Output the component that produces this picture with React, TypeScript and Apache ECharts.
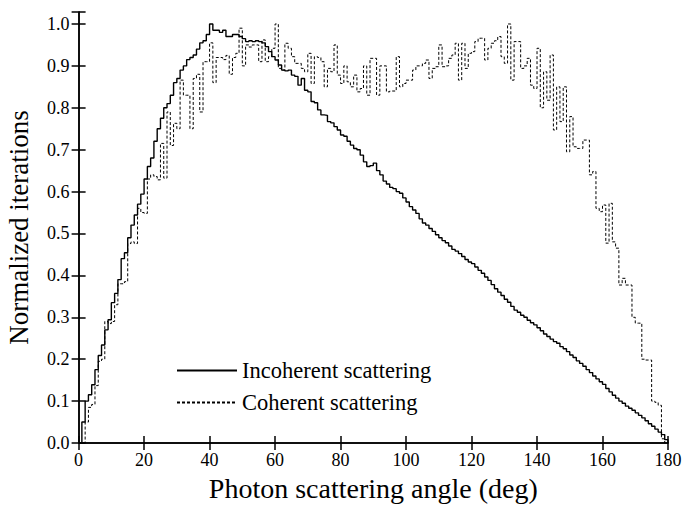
import React, { useEffect, useRef } from "react";
import * as echarts from "echarts";

// Histogram bins: 1 degree wide, bin i covers [i, i+1)
const binWidth = 1;
const xTicks = { min: 0, max: 180, interval: 20 };

const incoherent = [
  0, 0.05, 0.1, 0.115, 0.139, 0.175, 0.209, 0.234, 0.27, 0.294,
  0.335, 0.357, 0.39, 0.44, 0.454, 0.49, 0.52, 0.544, 0.57, 0.594,
  0.63, 0.66, 0.68, 0.72, 0.75, 0.775, 0.8, 0.81, 0.83, 0.86,
  0.87, 0.89, 0.9, 0.915, 0.92, 0.926, 0.94, 0.955, 0.96, 0.975,
  1.0, 0.985, 0.985, 0.98, 0.985, 0.97, 0.97, 0.975, 0.975, 0.97,
  0.965, 0.958, 0.96, 0.958, 0.96, 0.958, 0.955, 0.946, 0.934, 0.922,
  0.914, 0.902, 0.89, 0.888, 0.89, 0.878, 0.875, 0.854, 0.87, 0.842,
  0.838, 0.815, 0.812, 0.795, 0.783, 0.782, 0.767, 0.764, 0.755, 0.747,
  0.735, 0.732, 0.72, 0.711, 0.703, 0.7, 0.687, 0.671, 0.66, 0.662,
  0.668, 0.65, 0.64, 0.625, 0.618, 0.61, 0.607, 0.6, 0.596, 0.585,
  0.575, 0.564, 0.556, 0.548, 0.535, 0.525, 0.52, 0.512, 0.505, 0.497,
  0.49, 0.483, 0.478, 0.47, 0.462, 0.458, 0.452, 0.445, 0.438, 0.432,
  0.428, 0.42, 0.412, 0.405, 0.396, 0.388, 0.378, 0.368, 0.36, 0.352,
  0.343, 0.336, 0.326, 0.317, 0.312, 0.305, 0.3, 0.293, 0.287, 0.282,
  0.275, 0.268, 0.26, 0.254, 0.248, 0.242, 0.238, 0.23, 0.225, 0.218,
  0.21, 0.204, 0.196, 0.19, 0.183, 0.175, 0.168, 0.16, 0.153, 0.146,
  0.14, 0.13, 0.122, 0.114, 0.107, 0.1, 0.095, 0.088, 0.083, 0.078,
  0.072, 0.066, 0.06, 0.053, 0.046, 0.04, 0.033, 0.026, 0.02, 0.008,
];

const coherent = [
  0, 0, 0.05, 0.085, 0.092, 0.137, 0.195, 0.2, 0.29, 0.285,
  0.29, 0.33, 0.38, 0.38, 0.385, 0.476, 0.48, 0.476, 0.56, 0.55,
  0.548, 0.63, 0.64, 0.636, 0.628, 0.715, 0.632, 0.79, 0.71, 0.763,
  0.75, 0.866, 0.83, 0.83, 0.75, 0.87, 0.88, 0.79, 0.91, 0.91,
  0.955, 0.86, 0.92, 0.92, 0.915, 0.925, 0.88, 0.92, 0.93, 0.99,
  0.9, 0.95, 0.945, 0.95, 0.95, 0.91, 0.962, 0.91, 0.922, 0.942,
  1.0, 0.894, 0.89, 0.954, 0.942, 0.922, 0.906, 0.906, 0.894, 0.886,
  0.93, 0.858, 0.922, 0.92, 0.91, 0.85, 0.894, 0.886, 0.95, 0.878,
  0.858, 0.9, 0.862, 0.85, 0.878, 0.838, 0.846, 0.9, 0.83, 0.918,
  0.918, 0.83, 0.9, 0.9, 0.838, 0.84, 0.84, 0.922, 0.85, 0.858,
  0.866, 0.866, 0.89, 0.9, 0.9, 0.906, 0.914, 0.87, 0.894, 0.898,
  0.95, 0.898, 0.9, 0.918, 0.926, 0.954, 0.866, 0.954, 0.894, 0.93,
  0.934, 0.958, 0.966, 0.966, 0.914, 0.942, 0.954, 0.96, 0.97, 0.922,
  0.906, 1.0, 0.866, 0.958, 0.958, 0.894, 0.9, 0.918, 0.854, 0.846,
  0.942, 0.8, 0.886, 0.818, 0.926, 0.747, 0.85, 0.767, 0.85, 0.695,
  0.779, 0.707, 0.703, 0.703, 0.723, 0.723, 0.64, 0.648, 0.56, 0.552,
  0.568, 0.477, 0.572, 0.48, 0.465, 0.377, 0.393, 0.377, 0.377, 0.3,
  0.286, 0.286, 0.2, 0.198, 0.198, 0.1, 0.097, 0.09, 0.01, 0,
];

const seriesNames = ["Incoherent scattering", "Coherent scattering"];
const xTitle = "Photon scattering angle (deg)";
const yTitle = "Normalized iterations";

const toSteps = (vals: number[]) => {
  const pts: [number, number][] = vals.map((v, i) => [i * binWidth, v]);
  pts.push([vals.length * binWidth, 0]);
  return pts;
};

const FONT = "Liberation Serif";

export default function App() {
  const ref = useRef<HTMLDivElement>(null);
  useEffect(() => {
    if (!ref.current) return;
    const chart = echarts.init(ref.current, undefined, { renderer: "svg" });
    const axisLine = { show: true, lineStyle: { color: "#000", width: 1.5 } };
    const tick = { show: true, inside: true, length: 7, lineStyle: { color: "#000", width: 1.5 } };
    const labelStyle = { color: "#000", fontFamily: FONT, fontSize: 18 };
    chart.setOption({
      animation: false,
      backgroundColor: "#fff",
      grid: {
        left: 78.6,
        right: 15,
        top: 12,
        bottom: 63,
        containLabel: false,
        outerBoundsMode: "none",
      },
      legend: {
        left: 171,
        top: 354,
        orient: "vertical",
        itemWidth: 60,
        itemHeight: 10,
        itemGap: 9,
        itemStyle: { opacity: 0 },
        textStyle: { color: "#000", fontFamily: FONT, fontSize: 22.5 },
        data: seriesNames,
      },
      xAxis: [
        {
          type: "value",
          min: xTicks.min,
          max: xTicks.max,
          interval: xTicks.interval,
          axisLine,
          axisTick: tick,
          splitLine: { show: false },
          axisLabel: { ...labelStyle, margin: 8 },
          name: xTitle,
          nameLocation: "middle",
          nameGap: 31,
          nameTextStyle: { color: "#000", fontFamily: FONT, fontSize: 28 },
        },
        {
          type: "value",
          position: "top",
          min: xTicks.min,
          max: xTicks.max,
          interval: xTicks.interval,
          axisLine,
          axisTick: tick,
          splitLine: { show: false },
          axisLabel: { show: false },
        },
      ],
      yAxis: [
        {
          type: "value",
          min: 0,
          max: 1.0286,
          interval: 0.1,
          axisLine,
          axisTick: tick,
          splitLine: { show: false },
          axisLabel: {
            ...labelStyle,
            margin: 9,
            formatter: (v: number) => (v > 1.001 ? "" : v.toFixed(1)),
          },
          name: yTitle,
          nameLocation: "middle",
          nameGap: 46,
          nameTextStyle: { color: "#000", fontFamily: FONT, fontSize: 27 },
        },
        {
          type: "value",
          position: "right",
          min: 0,
          max: 1.0286,
          interval: 0.1,
          axisLine,
          axisTick: tick,
          splitLine: { show: false },
          axisLabel: { show: false },
        },
      ],
      series: [
        {
          name: seriesNames[0],
          type: "line",
          step: "end",
          symbol: "none",
          xAxisIndex: 0,
          yAxisIndex: 0,
          lineStyle: { color: "#000", width: 1.4, type: "solid" },
          itemStyle: { color: "#000" },
          data: toSteps(incoherent),
        },
        {
          name: seriesNames[1],
          type: "line",
          step: "end",
          symbol: "none",
          xAxisIndex: 0,
          yAxisIndex: 0,
          lineStyle: { color: "#000", width: 1, type: [3, 2] },
          itemStyle: { color: "#000" },
          data: toSteps(coherent),
        },
      ],
    });
    return () => chart.dispose();
  }, []);
  return (
    <div
      ref={ref}
      style={{ position: "fixed", left: 0, top: 0, width: 683, height: 506, background: "#fff" }}
    />
  );
}
